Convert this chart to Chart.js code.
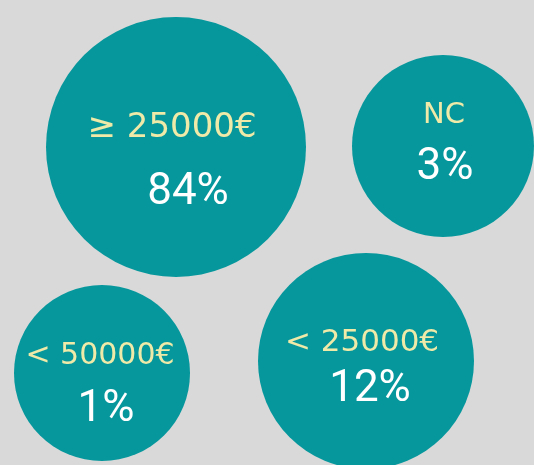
<!DOCTYPE html>
<html lang="fr">
<head>
  <meta charset="UTF-8">
  <title>Répartition</title>
  <script src="https://cdn.jsdelivr.net/npm/chart.js"></script>
  <style>
    body {
      margin: 0;
      padding: 0;
      background-color: #d9d9d9;
    }
    #wrap {
      position: relative;
      width: 534px;
      height: 465px;
    }
  </style>
</head>
<body>
  <div id="wrap"><canvas id="bubbles"></canvas></div>

  <script>
    // data
    const categories = ['\u2265 25000\u20ac', 'NC', '< 50000\u20ac', '< 25000\u20ac'];
    const shares = [84, 3, 1, 12];
    const xPos = [176, 443, 102, 366];
    const yPos = [147, 146, 373, 361];
    const radii = [130, 91, 88, 108];

    const teal = '#05979c';

    // per bubble text layout: [labelSize, labelDx, labelDy, pctDx, pctDy]
    const textLayout = [
      [34, -4, -10, 12, 57],
      [29, 1, -23, 2, 33],
      [30, -2, -9, 4, 48],
      [31, -4, -10, 4, 40]
    ];

    const bubbleText = {
      id: 'bubbleText',
      afterDatasetsDraw(chart) {
        const ctx = chart.ctx;
        const meta = chart.getDatasetMeta(0);
        ctx.save();
        ctx.textAlign = 'center';
        ctx.textBaseline = 'alphabetic';
        meta.data.forEach(function(el, i) {
          const t = textLayout[i];
          ctx.fillStyle = '#f0eaa8';
          ctx.font = t[0] + 'px "DejaVu Sans", sans-serif';
          ctx.fillText(categories[i], el.x + t[1], el.y + t[2]);
          ctx.fillStyle = '#ffffff';
          ctx.font = '44px Roboto, sans-serif';
          ctx.fillText(shares[i] + '%', el.x + t[3], el.y + t[4]);
        });
        ctx.restore();
      }
    };

    const ctx = document.getElementById('bubbles').getContext('2d');
    new Chart(ctx, {
      type: 'bubble',
      data: {
        labels: categories,
        datasets: [{
          data: categories.map(function(c, i) {
            return { x: xPos[i], y: yPos[i], r: radii[i] };
          }),
          backgroundColor: teal,
          borderWidth: 0,
          hoverBorderWidth: 0,
          clip: false
        }]
      },
      options: {
        responsive: true,
        maintainAspectRatio: false,
        animation: false,
        layout: { padding: 0, autoPadding: false },
        scales: {
          x: { display: false, min: 0, max: 534 },
          y: { display: false, min: 0, max: 465, reverse: true }
        },
        plugins: {
          legend: { display: false },
          tooltip: { enabled: false }
        }
      },
      plugins: [bubbleText]
    });
  </script>
</body>
</html>
